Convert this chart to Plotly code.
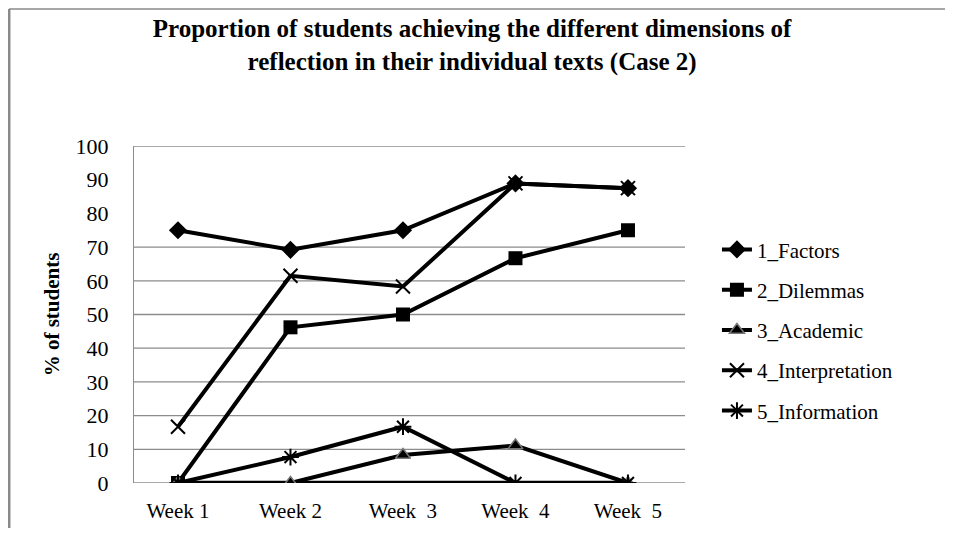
import plotly.graph_objects as go

weeks = ["Week 1", "Week 2", "Week  3", "Week  4", "Week  5"]
factors = [75, 69.2, 75, 88.9, 87.5]
dilemmas = [0, 46.2, 50, 66.7, 75]
academic = [0, 0, 8.3, 11.1, 0]
interpretation = [16.7, 61.5, 58.3, 88.9, 87.5]
information = [0, 7.7, 16.7, 0, 0]
baseline = [0, 0, 0, 0, 0]
y_ticks = [0, 10, 20, 30, 40, 50, 60, 70, 80, 90, 100]
grid_values = [0, 10, 20, 30, 40, 50, 60, 70, 100]

FONT = "Liberation Serif"

fig = go.Figure()

fig.add_trace(go.Scatter(x=weeks, y=baseline, mode="lines", line=dict(color="black", width=4.5),
                         showlegend=False, hoverinfo="skip"))

series = [
    ("1_Factors", factors, dict(symbol="diamond", size=14, color="black")),
    ("2_Dilemmas", dilemmas, dict(symbol="square", size=14, color="black")),
    ("3_Academic", academic, dict(symbol="triangle-up", size=13, color="black",
                                   line=dict(color="#777777", width=1.5))),
    ("4_Interpretation", interpretation, dict(symbol="x-thin-open", size=14, color="black",
                                               line=dict(color="black", width=2))),
    ("5_Information", information, dict(symbol="asterisk-open", size=14, color="black",
                                         line=dict(color="black", width=2))),
]
for name, vals, marker in series:
    fig.add_trace(go.Scatter(x=weeks, y=vals, mode="lines+markers", name=name,
                             legendgroup=name,
                             line=dict(color="black", width=4), marker=marker))

shapes = []
for g in grid_values:
    shapes.append(dict(type="line", xref="paper", yref="y", x0=0, x1=1, y0=g, y1=g,
                       line=dict(color="#8c8c8c", width=1.3), layer="below"))
# chart border (left and top)
shapes.append(dict(type="line", xref="paper", yref="paper", x0=-0.2269, x1=-0.2269, y0=-0.1335, y1=1.4065,
                   line=dict(color="#8a8a8a", width=3)))
shapes.append(dict(type="line", xref="paper", yref="paper", x0=-0.2269, x1=1.6, y0=1.4065, y1=1.4065,
                   line=dict(color="#8a8a8a", width=1.5)))

fig.update_layout(
    width=953, height=533,
    margin=dict(l=126, r=276, t=138, b=58),
    paper_bgcolor="white", plot_bgcolor="white",
    font=dict(family=FONT, color="black", size=18),
    title=dict(text="<b>Proportion of students achieving the different dimensions of<br>reflection in their individual texts (Case 2)</b>",
               x=0.487, xanchor="center", y=0.945, yanchor="top",
               font=dict(family=FONT, size=25, color="black")),
    xaxis=dict(showgrid=False, showline=False, zeroline=False, ticks="",
               tickfont=dict(family=FONT, size=21), range=[-0.391, 4.507],
               ticklabelstandoff=13),
    yaxis=dict(range=[0, 100], tickvals=y_ticks, showgrid=False, zeroline=False,
               showline=True, linecolor="#8c8c8c", linewidth=1.3, ticks="",
               ticklabelstandoff=20,
               tickfont=dict(family=FONT, size=22),
               title=dict(text="<b>% of students</b>", font=dict(family=FONT, size=21), standoff=10)),
    legend=dict(x=1.058, y=0.753, xanchor="left", yanchor="top", font=dict(family=FONT, size=21),
                tracegroupgap=10, itemwidth=30, bgcolor="rgba(0,0,0,0)"),
    shapes=shapes,
)

fig.write_html("out.html")
